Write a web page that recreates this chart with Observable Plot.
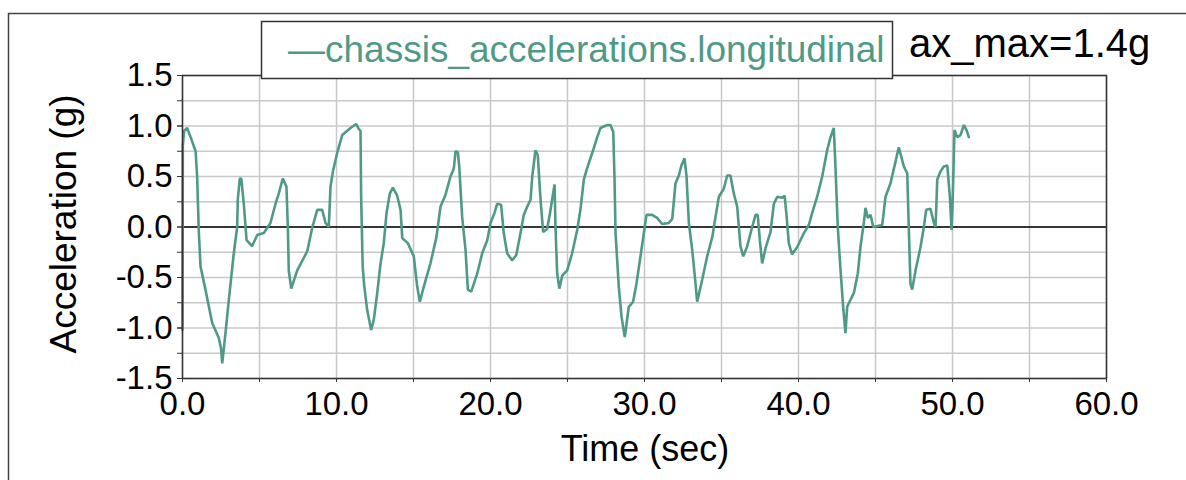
<!DOCTYPE html>
<html>
<head>
<meta charset="utf-8">
<script src="https://cdn.jsdelivr.net/npm/d3@7"></script>
<script src="https://cdn.jsdelivr.net/npm/@observablehq/plot@0.6"></script>
<style>
  html, body { margin: 0; padding: 0; background: #fff; }
  #chart svg { display: block; }
</style>
</head>
<body>
<div id="chart"></div>
<script>
// ---- data ----
const timeSec = [
  0.0, 0.02, 0.1, 0.3, 0.55, 0.85, 0.95, 1.06, 1.17, 1.49, 1.93, 2.36, 2.5, 2.58, 2.79, 3.01, 3.33, 3.55, 3.59, 3.72,
  3.82, 3.98, 4.16, 4.52, 4.85, 5.28, 5.71, 6.04, 6.25, 6.51, 6.75, 6.84, 6.90, 7.06, 7.45, 8.10, 8.42, 8.75, 9.07, 9.29,
  9.50, 9.61, 9.78, 10.04, 10.37, 10.91, 11.28, 11.45, 11.56, 11.60, 11.70, 11.80, 11.99, 12.25, 12.42, 12.64, 12.86, 13.07, 13.25, 13.46,
  13.66, 13.94, 14.16, 14.27, 14.63, 15.02, 15.24, 15.41, 15.67, 16.10, 16.49, 16.75, 17.08, 17.40, 17.62, 17.73, 17.88, 17.97, 18.16, 18.38,
  18.53, 18.75, 19.14, 19.46, 19.79, 20.0, 20.26, 20.43, 20.69, 20.86, 21.08, 21.40, 21.67, 21.95, 22.16, 22.38, 22.60, 22.71, 22.92, 23.07,
  23.25, 23.42, 23.68, 23.90, 24.0, 24.16, 24.22, 24.33, 24.47, 24.66, 24.98, 25.30, 25.63, 25.84, 26.06, 26.23, 26.60, 26.93, 27.14, 27.58,
  27.79, 27.97, 28.05, 28.12, 28.33, 28.51, 28.72, 28.98, 29.26, 29.48, 29.74, 29.96, 30.13, 30.50, 30.82, 31.15, 31.58, 31.80, 32.01, 32.23,
  32.40, 32.60, 32.73, 32.88, 33.10, 33.25, 33.42, 33.75, 34.07, 34.40, 34.61, 34.83, 35.15, 35.37, 35.58, 35.80, 36.02, 36.23, 36.41, 36.67,
  36.99, 37.21, 37.35, 37.49, 37.64, 37.86, 38.18, 38.40, 38.62, 38.94, 39.10, 39.22, 39.37, 39.58, 39.91, 40.35, 40.67, 40.89, 41.21, 41.54,
  41.86, 42.08, 42.29, 42.40, 42.55, 42.73, 42.90, 43.05, 43.16, 43.38, 43.60, 43.85, 44.03, 44.25, 44.35, 44.50, 44.68, 44.85, 45.43, 45.50,
  45.65, 45.97, 46.23, 46.51, 46.84, 47.06, 47.16, 47.27, 47.38, 47.60, 47.92, 48.14, 48.29, 48.57, 48.79, 48.90, 49.01, 49.22, 49.44, 49.66,
  49.83, 49.94, 50.0, 50.13, 50.31, 50.52, 50.74, 50.91, 51.06
];
const accelG = [
  -1.02, 0.80, 0.95, 0.98, 0.88, 0.75, 0.50, -0.05, -0.39, -0.62, -0.95, -1.10, -1.20, -1.35, -1.05, -0.72, -0.26, 0.0, 0.27, 0.48,
  0.48, 0.23, -0.13, -0.19, -0.08, -0.06, 0.04, 0.23, 0.33, 0.48, 0.40, 0.0, -0.43, -0.61, -0.43, -0.24, -0.01, 0.17, 0.17, 0.04,
  0.0, 0.40, 0.56, 0.73, 0.91, 0.98, 1.02, 0.97, 0.95, 0.30, -0.39, -0.58, -0.82, -1.02, -0.92, -0.66, -0.36, -0.16, 0.14, 0.33,
  0.39, 0.31, 0.17, -0.11, -0.16, -0.29, -0.59, -0.74, -0.59, -0.36, -0.10, 0.20, 0.32, 0.50, 0.58, 0.75, 0.74, 0.60, 0.10, -0.23,
  -0.62, -0.64, -0.46, -0.26, -0.13, 0.04, 0.14, 0.23, 0.22, -0.06, -0.26, -0.33, -0.28, -0.06, 0.12, 0.20, 0.27, 0.50, 0.76, 0.71,
  0.27, -0.05, -0.02, 0.17, 0.27, 0.42, 0.0, -0.46, -0.61, -0.48, -0.43, -0.26, -0.03, 0.17, 0.47, 0.56, 0.73, 0.89, 0.98, 1.01,
  1.01, 0.94, 0.50, -0.06, -0.59, -0.89, -1.09, -0.79, -0.74, -0.56, -0.29, -0.06, 0.12, 0.12, 0.09, 0.03, 0.04, 0.08, 0.43, 0.51,
  0.61, 0.68, 0.50, 0.04, -0.23, -0.46, -0.74, -0.52, -0.29, -0.10, 0.10, 0.30, 0.38, 0.51, 0.51, 0.33, 0.20, -0.19, -0.29, -0.19,
  0.0, 0.12, 0.12, -0.13, -0.36, -0.21, -0.05, 0.23, 0.30, 0.29, 0.31, 0.12, -0.16, -0.27, -0.20, -0.06, 0.02, 0.14, 0.30, 0.50,
  0.76, 0.89, 0.98, 0.60, 0.0, -0.43, -0.79, -1.05, -0.79, -0.72, -0.65, -0.46, -0.19, 0.05, 0.19, 0.09, 0.12, 0.0, 0.02, 0.10,
  0.30, 0.43, 0.60, 0.79, 0.60, 0.53, 0.0, -0.56, -0.62, -0.43, -0.20, 0.0, 0.17, 0.18, 0.04, 0.0, 0.47, 0.55, 0.60, 0.61,
  0.30, -0.03, 0.20, 0.96, 0.89, 0.91, 1.01, 0.96, 0.89
];

const seriesName = "chassis_accelerations.longitudinal";
const annotation = "ax_max=1.4g";
const xTitle = "Time (sec)";
const yTitle = "Acceleration (g)";

const xTickValues = [0, 10, 20, 30, 40, 50, 60];
const xMinorValues = [0, 5, 10, 15, 20, 25, 30, 35, 40, 45, 50, 55, 60];
const yTickValues = [-1.5, -1.0, -0.5, 0.0, 0.5, 1.0, 1.5];
const yMinorValues = [-1.5, -1.25, -1.0, -0.75, -0.5, -0.25, 0, 0.25, 0.5, 0.75, 1.0, 1.25, 1.5];

// ---- build ----
const rows = timeSec.map((t, i) => ({t, a: accelG[i]}));
const lineColor = "#4f9a87";
const font = "'Liberation Sans', Arial, sans-serif";

const chart = Plot.plot({
  width: 1186,
  height: 480,
  marginLeft: 182,
  marginRight: 80,
  marginTop: 75,
  marginBottom: 102,
  style: {fontFamily: font, fontSize: "33px", color: "#000", background: "#fff", overflow: "visible"},
  x: {domain: [0, 60]},
  y: {domain: [-1.5, 1.5]},
  marks: [
    Plot.gridX(xMinorValues, {stroke: "#c8c8c8", strokeOpacity: 1, strokeWidth: 1.5}),
    Plot.gridY(yMinorValues, {stroke: "#c8c8c8", strokeOpacity: 1, strokeWidth: 1.5}),
    Plot.ruleY([0], {stroke: "#000", strokeWidth: 1.5}),
    Plot.lineY(rows, {x: "t", y: "a", stroke: lineColor, strokeWidth: 2.6, curve: "linear", strokeLinejoin: "miter"}),
    Plot.frame({stroke: "#333", strokeWidth: 1.5}),
    Plot.axisX(xMinorValues, {tickSize: 4, text: null, label: null, stroke: "#333"}),
    Plot.axisX(xTickValues, {tickSize: 4, tickPadding: 9, tickFormat: d => d.toFixed(1), label: null, fontSize: 33, stroke: "#333"}),
    Plot.axisY(yMinorValues, {tickSize: 5, text: null, label: null, stroke: "#333"}),
    Plot.axisY(yTickValues, {tickSize: 5, tickPadding: 5, tickFormat: d => d.toFixed(1), label: null, fontSize: 33, stroke: "#333"})
  ]
});

document.getElementById("chart").appendChild(chart);

const svg = d3.select(chart);
// outer panel border (left and top edges visible)
svg.append("path")
  .attr("d", "M8.5,480 V13.5 H1186")
  .attr("fill", "none").attr("stroke", "#444").attr("stroke-width", 1.5);

// legend box
svg.append("rect")
  .attr("x", 261.5).attr("y", 21.5).attr("width", 631).attr("height", 57)
  .attr("fill", "#fff").attr("stroke", "#333").attr("stroke-width", 1.5);
svg.append("text")
  .attr("x", 288).attr("y", 62)
  .attr("text-anchor", "start")
  .attr("font-family", font).attr("font-size", 37)
  .attr("fill", lineColor)
  .text("\u2014" + seriesName);

// annotation
svg.append("text")
  .attr("x", 909).attr("y", 57)
  .attr("text-anchor", "start")
  .attr("font-family", font).attr("font-size", 40)
  .attr("fill", "#000")
  .text(annotation);

// axis titles
svg.append("text")
  .attr("x", 645).attr("y", 461)
  .attr("text-anchor", "middle")
  .attr("font-family", font).attr("font-size", 36)
  .attr("fill", "#000")
  .text(xTitle);
svg.append("text")
  .attr("transform", "translate(76,224) rotate(-90)")
  .attr("text-anchor", "middle")
  .attr("font-family", font).attr("font-size", 37)
  .attr("fill", "#000")
  .text(yTitle);
</script>
</body>
</html>
